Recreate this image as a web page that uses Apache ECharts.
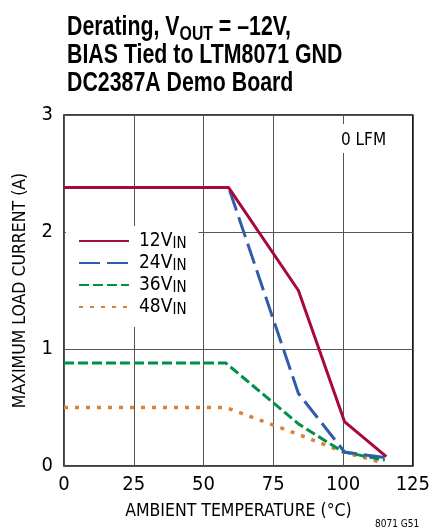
<!DOCTYPE html>
<html><head><meta charset="utf-8">
<script src="https://cdn.jsdelivr.net/npm/echarts@6/dist/echarts.min.js"></script>
<style>html,body{margin:0;padding:0;background:#fff}#c{width:433px;height:529px}</style>
</head><body><div id="c"></div>
<script>
const FONT = "'DejaVu Sans Condensed','Liberation Sans',sans-serif";
const TFONT = "'Liberation Sans',Arial,sans-serif";
const xTicks = [0, 25, 50, 75, 100, 125];
const yTicks = [0, 1, 2, 3];
const seriesNames = ['12V', '24V', '36V', '48V'];
const temp12 = [0, 59, 84, 100.5, 115.5];
const cur12 = [2.38, 2.38, 1.50, 0.38, 0.08];
const temp24 = [0, 59, 84, 100.5, 115.5];
const cur24 = [2.38, 2.38, 0.62, 0.12, 0.07];
const temp36 = [0, 58, 84, 100, 115];
const cur36 = [0.88, 0.88, 0.36, 0.12, 0.05];
const temp48 = [0, 58, 84, 100, 114];
const cur48 = [0.50, 0.50, 0.27, 0.12, 0.03];

const zip = (a, b) => a.map((v, i) => [v, b[i]]);
const colors = ['#A6093D', '#2F5DA9', '#00904A', '#D8823A'];
const dashes = ['solid', [21, 7], [10, 4], [4, 7]];
const widths = [3, 3, 3, 3.5];
const datasets = [zip(temp12, cur12), zip(temp24, cur24), zip(temp36, cur36), zip(temp48, cur48)];

const series = datasets.map((d, i) => ({
  name: seriesNames[i], type: 'line', data: d, symbol: 'none', showSymbol: false,
  z: 10 - i,
  lineStyle: { color: colors[i], width: widths[i], type: dashes[i] },
  itemStyle: { color: colors[i] }
}));

const titleRich = {
  s: { fontFamily: TFONT, fontWeight: 'bold', fontSize: 20, fill: '#000', padding: [12, 0, 0, 0], lineHeight: 28 }
};

const chart = echarts.init(document.getElementById('c'), null, { renderer: 'canvas' });
chart.setOption({
  animation: false,
  backgroundColor: '#fff',
  grid: { left: 64, top: 115, right: 17, bottom: 63, show: true, borderColor: '#000', borderWidth: 1.5, containLabel: false },
  xAxis: {
    type: 'value', min: 0, max: 125, interval: 25,
    name: 'AMBIENT TEMPERATURE (°C)', nameLocation: 'middle', nameGap: 36,
    nameTextStyle: { fontFamily: FONT, fontSize: 17.5, color: '#000' },
    axisLine: { show: false }, axisTick: { show: false },
    axisLabel: { fontFamily: FONT, fontSize: 20, color: '#000', margin: 9,
      formatter: v => xTicks.includes(v) ? String(v) : '' },
    splitLine: { show: true, lineStyle: { color: '#555', width: 1 } }
  },
  yAxis: {
    type: 'value', min: 0, max: 3, interval: 1,
    name: 'MAXIMUM LOAD CURRENT (A)', nameLocation: 'middle', nameGap: 35,
    nameTextStyle: { fontFamily: FONT, fontSize: 17.5, color: '#000' },
    axisLine: { show: false }, axisTick: { show: false },
    axisLabel: { fontFamily: FONT, fontSize: 20, color: '#000', margin: 11,
      formatter: v => yTicks.includes(v) ? String(v) : '' },
    splitLine: { show: true, lineStyle: { color: '#555', width: 1 } }
  },
  legend: {
    orient: 'vertical', left: 66, top: 226,
    data: seriesNames,
    backgroundColor: '#fff', padding: [4, 12, 9, 12],
    itemWidth: 50, itemHeight: 14, itemGap: 0,
    itemStyle: { opacity: 0 },
    formatter: n => n + '{s|IN}',
    textStyle: { fontFamily: FONT, fontSize: 19, color: '#000', lineHeight: 21, padding: [0, 0, 0, 5],
      rich: { s: { fontFamily: FONT, fontSize: 15, color: '#000', padding: [7, 0, 0, 0], lineHeight: 21 } } }
  },
  graphic: [
    { type: 'text', x: 67, y: 14, scaleX: 0.79, scaleY: 1, z: 50,
      style: { text: 'Derating, V{s|OUT} = –12V,\nBIAS Tied to LTM8071 GND\nDC2387A Demo Board',
        fontFamily: TFONT, fontWeight: 'bold', fontSize: 27, lineHeight: 28, fill: '#000',
        rich: titleRich } },
    { type: 'text', left: 338, top: 124, z: 50,
      style: { text: '0 LFM', fontFamily: FONT, fontSize: 17, fill: '#000', backgroundColor: '#fff', padding: [8, 3, 4, 3] } },
    { type: 'text', left: 375, top: 519, z: 50,
      style: { text: '8071 G51', fontFamily: FONT, fontSize: 10, fill: '#000' } }
  ],
  series: series
});
</script></body></html>
